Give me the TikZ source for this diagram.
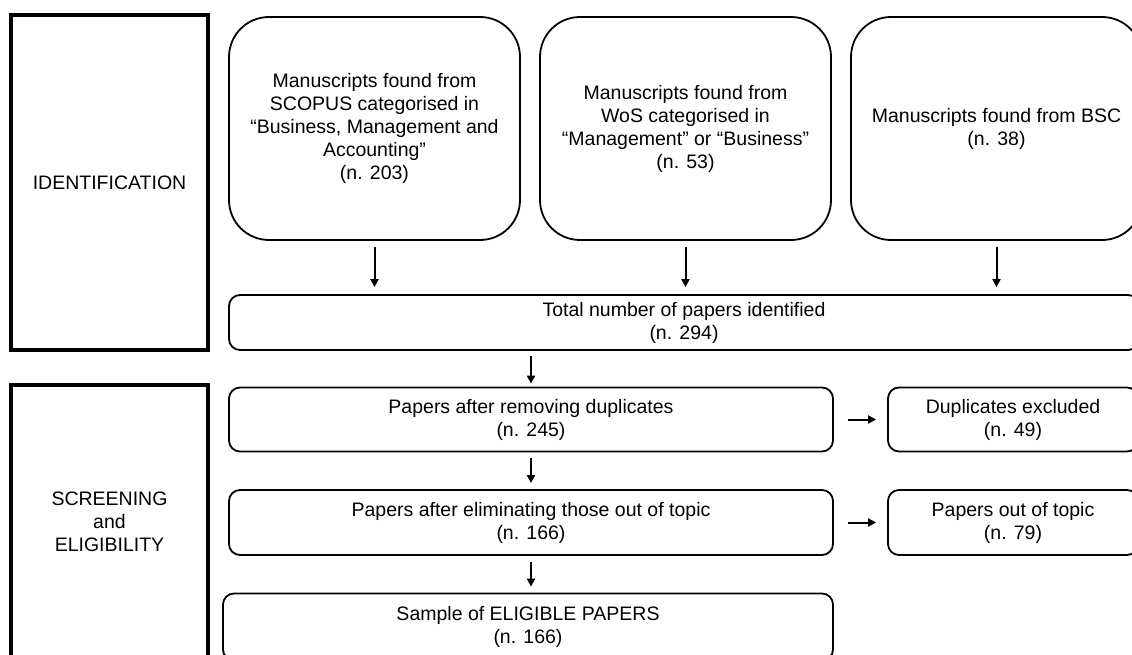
\documentclass[tikz,border=0pt]{standalone}
\usepackage{fontspec}
\setmainfont{Liberation Sans}
\usetikzlibrary{arrows.meta}
\tikzset{
    phase/.style={draw, line width=3.5pt, minimum width=197pt, align=center},
    srcbox/.style={draw, line width=1.8pt, rounded corners=40pt,
        minimum width=291pt, minimum height=223pt, align=center},
    flowbox/.style={draw, line width=1.8pt, rounded corners=11pt, align=center},
    arr/.style={-{Triangle[length=8pt,width=8pt]}, line width=2pt,
        shorten <=6pt, shorten >=6pt},
}
\begin{document}
\begin{tikzpicture}[x=1pt, y=-1pt, font={\fontsize{19.5}{23}\selectfont}]
    \useasboundingbox (0,0) rectangle (1132,655);
    % Phasen:
    \node[phase, minimum height=335pt] (ident) at (109.5,182.5) {IDENTIFICATION};
    \node[phase, minimum height=274pt] (screen) at (109.5,522) {SCREENING\\and\\ELIGIBILITY};
    % Quellen:
    \node[srcbox] (scopus) at (374.5,128.5)
        {Manuscripts found from\\SCOPUS categorised in\\“Business, Management and\\Accounting”\\(n. 203)};
    \node[srcbox] (wos) at (685.5,128.5)
        {Manuscripts found from\\WoS categorised in\\“Management” or “Business”\\(n. 53)};
    \node[srcbox] (bsc) at (996.5,128.5)
        {Manuscripts found from BSC\\(n. 38)};
    % Ablauf:
    \node[flowbox, minimum width=910pt, minimum height=55pt] (total) at (684,322.5)
        {Total number of papers identified\\(n. 294)};
    \node[flowbox, minimum width=604pt, minimum height=64pt] (after) at (531,419.5)
        {Papers after removing duplicates\\(n. 245)};
    \node[flowbox, minimum width=250pt, minimum height=64pt] (dupl) at (1013,419.5)
        {Duplicates excluded\\(n. 49)};
    \node[flowbox, minimum width=604pt, minimum height=65pt] (topic) at (531,522.5)
        {Papers after eliminating those out of topic\\(n. 166)};
    \node[flowbox, minimum width=250pt, minimum height=65pt] (outtopic) at (1013,522.5)
        {Papers out of topic\\(n. 79)};
    \node[flowbox, minimum width=610pt, minimum height=67pt] (sample) at (528,627)
        {Sample of ELIGIBLE PAPERS\\(n. 166)};
    % Pfeile:
    \draw[arr, shorten >=7pt] (scopus.south) -- (scopus.south |- total.north);
    \draw[arr, shorten >=7pt] (wos.south) -- (wos.south |- total.north);
    \draw[arr, shorten >=7pt] (bsc.south) -- (bsc.south |- total.north);
    \draw[arr, shorten <=5pt, shorten >=3pt] (after.north |- total.south) -- (after.north);
    \draw[arr] (after.south) -- (topic.north);
    \draw[arr] (topic.south) -- (topic.south |- sample.north);
    \draw[arr, shorten <=14pt, shorten >=11pt] (after.east) -- (dupl.west);
    \draw[arr, shorten <=14pt, shorten >=11pt] (topic.east) -- (outtopic.west);
\end{tikzpicture}
\end{document}
